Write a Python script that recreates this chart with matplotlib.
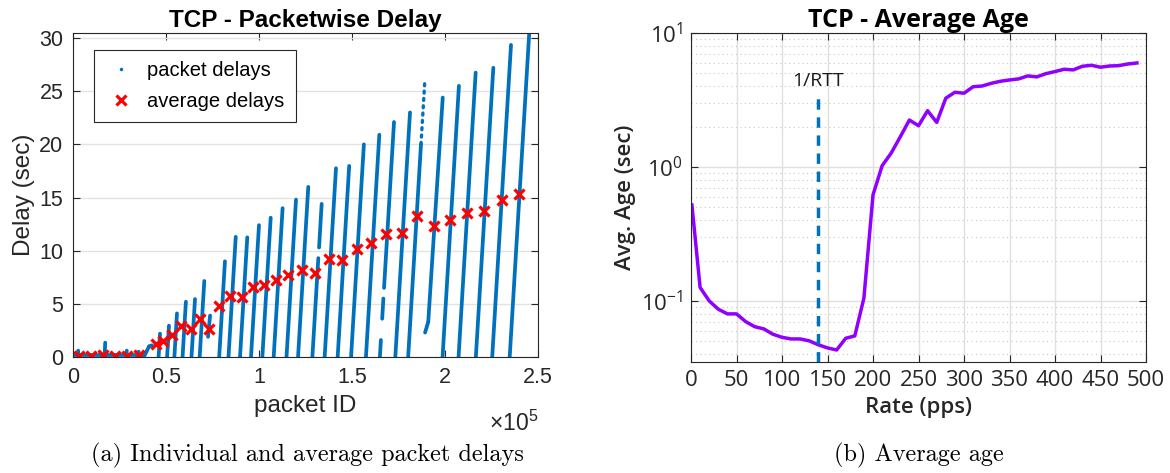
import matplotlib
matplotlib.use('Agg')
import matplotlib.pyplot as plt
from matplotlib.lines import Line2D
from matplotlib.ticker import FuncFormatter, LogLocator, NullFormatter

# --- left panel: packet delays, one straight piece per ramp (x in 1e3 packets, delay in sec)
# x0, y0 -> x1, y1
piece_x0 = [0.0, 2.6, 17.0, 28.6, 35.0, 38.2, 40.9, 46.0, 50.6, 54.5, 58.9, 63.7, 68.1, 72.6,
            78.6, 83.6, 89.8, 95.7, 101.8, 107.9, 114.8, 121.0, 128.7, 132.3, 135.3, 142.3,
            149.5, 157.5, 165.0, 166.24, 167.24, 173.3, 180.2, 189.3, 191.0, 198.7, 207.3,
            216.6, 225.4, 234.8]
piece_y0 = [0.15, 0, 0, 0, 0, 0.05, 1.0, 0, 0, 0, 0, 0, 0, 1.9,
            0, 0, 0, 0, 0, 0, 0, 0, 0, 10.3, 0, 0,
            0, 0, 0, 3.6, 6.5, 0, 0, 2.3, 3.3, 0, 0,
            0, 0, 0]
piece_x1 = [38.2, 2.8, 17.3, 28.9, 35.3, 40.9, 42.5, 46.8, 51.6, 55.9, 60.7, 65.6, 70.6, 73.7,
            81.7, 87.5, 93.7, 100.0, 106.3, 112.7, 119.9, 126.5, 131.9, 133.7, 141.4, 148.5,
            156.4, 164.7, 165.55, 166.89, 172.6, 181.2, 187.1, 191.0, 198.8, 207.5, 216.5,
            226.0, 235.5, 245.3]
piece_y1 = [0.15, 0.6, 1.35, 0.6, 0.5, 1.0, 1.1, 2.2, 2.95, 4.1, 5.2, 5.45, 7.15, 3.9,
            9.0, 11.3, 11.25, 12.4, 13.1, 14.0, 14.8, 16.0, 9.3, 14.4, 17.75, 17.97,
            20.0, 20.9, 1.6, 5.5, 22.1, 23.0, 20.0, 3.3, 24.4, 25.5, 26.75,
            27.2, 29.35, 30.45]
# sparse (dotted) top of one ramp
sparse_x = [187.1, 189.2]
sparse_y = [20.0, 26.06]

# average delay per ramp
avg_x = [3.4, 9.7, 16.3, 22.6, 28.9, 35.3, 44.4, 48.6, 53.4, 58.1, 63.3, 68.3, 73.3, 78.7,
         84.4, 90.7, 96.6, 102.8, 109.0, 115.8, 122.9, 129.9, 137.6, 144.6, 152.5, 160.4,
         168.3, 176.7, 185.1, 193.9, 202.7, 212.0, 221.1, 230.5, 239.9]
avg_y = [0.1, 0.1, 0.2, 0.1, 0.13, 0.2, 1.19, 1.5, 2.07, 2.92, 2.63, 3.6, 2.66, 4.8,
         5.77, 5.61, 6.55, 6.8, 7.27, 7.71, 8.18, 7.87, 9.22, 9.09, 10.13, 10.7,
         11.57, 11.63, 13.26, 12.32, 12.89, 13.57, 13.73, 14.77, 15.3]

# --- right panel: average age vs rate
rate = [1, 10, 20, 30, 40, 50, 60, 70, 80, 90, 100, 110, 120, 130, 140, 150, 160, 170, 180, 190,
        200, 210, 220, 230, 240, 250, 260, 270, 280, 290, 300, 310, 320, 330, 340, 350, 360,
        370, 380, 390, 400, 410, 420, 430, 440, 450, 460, 470, 480, 490]
avg_age = [0.52, 0.126, 0.100, 0.0867, 0.080, 0.080, 0.0701, 0.0642, 0.0618, 0.0564, 0.0535,
           0.052, 0.052, 0.0503, 0.047, 0.0446, 0.043, 0.0526, 0.0548, 0.105, 0.618, 1.02,
           1.27, 1.68, 2.24, 2.03, 2.63, 2.15, 3.26, 3.61, 3.55, 3.97, 4.02, 4.21, 4.36, 4.46,
           4.54, 4.78, 4.70, 4.97, 5.15, 5.36, 5.30, 5.64, 5.74, 5.55, 5.67, 5.70, 5.87, 5.97]
rtt_rate = 140

blue = '#0072BD'
purple = '#8F00FF'
edge = '#262626'
fontL = 'Liberation Sans'
fontR = 'Open Sans'

fig = plt.figure(figsize=(11.7, 4.73), dpi=100)

# ---------------- left
ax1 = fig.add_axes([0.0624, 0.2452, 0.3974, 0.685])
for i in range(len(piece_x0)):
    ax1.plot([piece_x0[i] * 1e3, piece_x1[i] * 1e3], [piece_y0[i], piece_y1[i]],
             color=blue, lw=2.7, solid_capstyle='round')
ax1.plot([v * 1e3 for v in sparse_x], sparse_y, color=blue, lw=2.4, ls=(0, (0.6, 1.6)),
         dash_capstyle='round')
ax1.plot([v * 1e3 for v in avg_x], avg_y, ls='none', marker='x', color='red', ms=7, mew=2.3)

ax1.set_xlim(0, 2.5e5)
ax1.set_ylim(0, 30.47)
ax1.set_xticks([0, 0.5e5, 1e5, 1.5e5, 2e5, 2.5e5])
ax1.set_yticks([0, 5, 10, 15, 20, 25, 30])
ax1.xaxis.set_major_formatter(FuncFormatter(lambda v, p: '%g' % (v / 1e5)))
ax1.yaxis.grid(True, color='#e3e3e3', lw=1.0)
ax1.set_axisbelow(True)
ax1.tick_params(direction='in', top=True, right=True, length=5, width=0.8, color=edge,
                labelsize=15.5, pad=7, labelcolor=edge)
for lab in ax1.get_xticklabels() + ax1.get_yticklabels():
    lab.set_family(fontL)
for s in ax1.spines.values():
    s.set_color(edge)
    s.set_linewidth(0.8)
ax1.set_xlabel('packet ID', family=fontL, fontsize=17.5, color=edge, labelpad=5)
ax1.set_ylabel('Delay (sec)', family=fontL, fontsize=17.5, color=edge, labelpad=3)
ax1.set_title('TCP - Packetwise Delay', family=fontL, fontsize=17.5, fontweight='bold', pad=4)
ax1.text(1.0, -0.165, r'$\mathregular{\times10^{5}}$', transform=ax1.transAxes, ha='right',
         va='top', family=fontL, fontsize=16.5, color=edge)

handles = [Line2D([], [], ls='none', marker='.', ms=3, color=blue),
           Line2D([], [], ls='none', marker='x', ms=7, mew=2.3, color='red')]
leg = ax1.legend(handles, ['packet delays', 'average delays'], loc='upper left',
                 bbox_to_anchor=(0.045, 0.9475), borderaxespad=0,
                 prop={'family': fontL, 'size': 14.5},
                 fancybox=False, framealpha=1, edgecolor=edge, borderpad=0.55,
                 handlelength=1.6, handletextpad=0.5, labelspacing=0.6)
leg.get_frame().set_linewidth(0.8)

# ---------------- right
ax2 = fig.add_axes([0.5906, 0.2347, 0.3889, 0.6956])
ax2.plot(rate, avg_age, color=purple, lw=2.5)
ax2.plot([rtt_rate, rtt_rate], [0.035, 3.56], color=blue, lw=2.5, ls=(0, (3, 2.2)))
ax2.text(rtt_rate, 4.0, '1/RTT', family=fontR, fontsize=14, ha='center', va='baseline',
         color='#1a1a1a')
ax2.set_yscale('log')
ax2.set_xlim(0, 500)
ax2.set_ylim(0.035, 10)
ax2.set_xticks(range(0, 501, 50))
ax2.set_yticks([0.1, 1, 10])
ax2.set_yticklabels([r'$\mathregular{10^{-1}}$', r'$\mathregular{10^{0}}$',
                     r'$\mathregular{10^{1}}$'])
ax2.yaxis.set_minor_locator(LogLocator(base=10, subs=range(2, 10)))
ax2.yaxis.set_minor_formatter(NullFormatter())
ax2.grid(True, which='major', color='#e0e0e0', lw=1.0)
ax2.yaxis.grid(True, which='minor', color='#c8c8c8', lw=0.8, ls=(0, (1, 3)))
ax2.set_axisbelow(True)
ax2.tick_params(which='major', direction='in', top=True, right=True, length=5, width=0.8,
                color=edge, labelsize=16, pad=6, labelcolor=edge)
ax2.tick_params(which='minor', direction='in', left=False, right=False, length=0)
for lab in ax2.get_xticklabels() + ax2.get_yticklabels():
    lab.set_family(fontR)
for s in ax2.spines.values():
    s.set_color(edge)
    s.set_linewidth(0.8)
ax2.set_xlabel('Rate (pps)', family=fontR, fontsize=16, fontweight='semibold', color=edge,
               labelpad=4)
ax2.set_ylabel('Avg. Age (sec)', family=fontR, fontsize=16, fontweight='semibold',
               color=edge, labelpad=3)
ax2.set_title('TCP - Average Age', family=fontR, fontsize=18, fontweight='bold', pad=4)

# ---------------- captions
fig.text(0.263, 0.025, '(a) Individual and average packet delays', family='cmr10',
         fontsize=17.5, ha='center', va='baseline')
fig.text(0.785, 0.025, '(b) Average age', family='cmr10', fontsize=17.5, ha='center',
         va='baseline')

fig.savefig('out.png', dpi=100)
